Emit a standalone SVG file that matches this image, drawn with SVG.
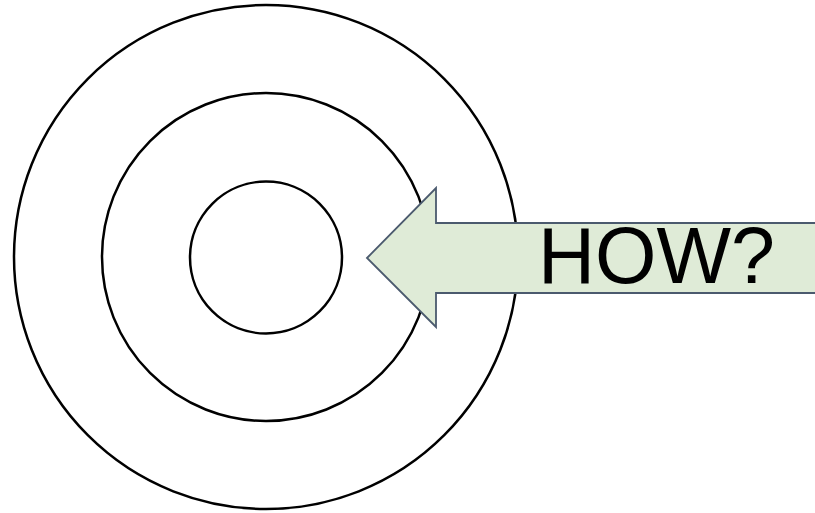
<svg xmlns="http://www.w3.org/2000/svg" width="815" height="513" viewBox="0 0 815 513">
<style>
.ring{fill:none;stroke:#000;stroke-width:2.5}
.arrow{fill:#dfebd7;stroke:#4b5a6e;stroke-width:1.8;stroke-linejoin:miter}
.lbl{font-family:"Liberation Sans",Arial,sans-serif;font-size:79px;fill:#000}
</style>
<rect width="815" height="513" fill="#fff"/>
<g id="outer"><circle class="ring" cx="266" cy="257" r="252"/></g>
<g id="middle"><circle class="ring" cx="266" cy="257" r="164"/></g>
<g id="inner"><circle class="ring" cx="266" cy="257.5" r="76"/></g>
<g id="arrow">
<polygon class="arrow" points="367,258 436,188 436,223 816,223 816,293 436,293 436,327"/>
<text class="lbl" x="538" y="283">HOW?</text>
</g>
</svg>
